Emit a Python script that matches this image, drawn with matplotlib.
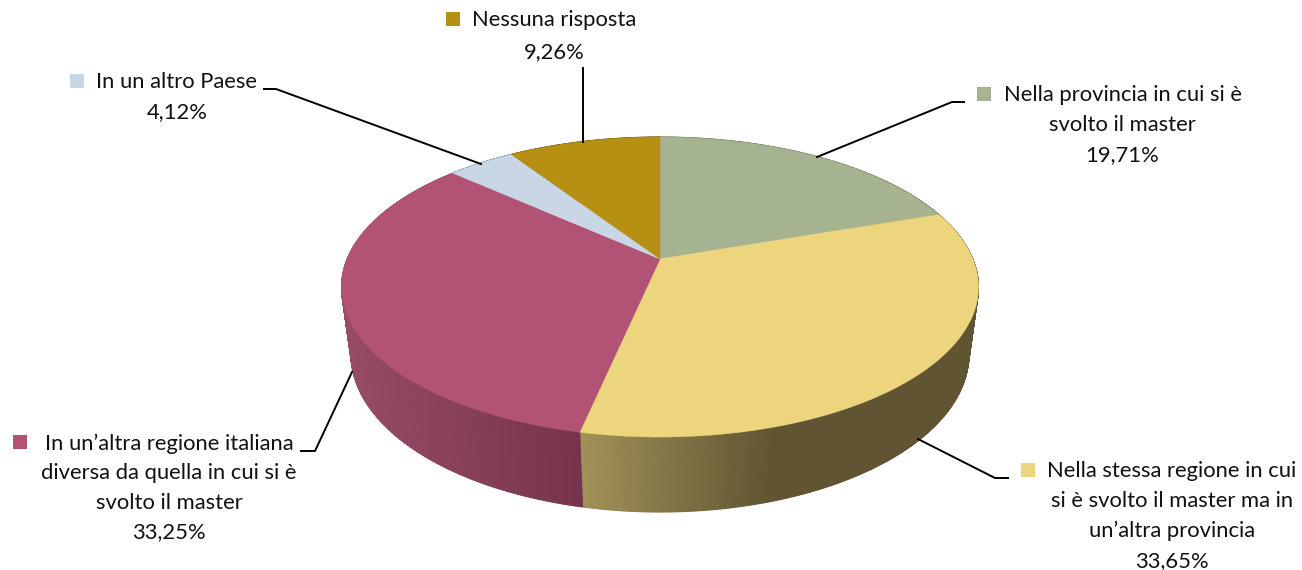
#!/usr/bin/env python
# -*- coding: utf-8 -*-

import numpy as np
import matplotlib
matplotlib.use('Agg')
import matplotlib.pyplot as plt

labels = ['Nella provincia in cui si è\nsvolto il master',
          'Nella stessa regione in cui\nsi è svolto il master ma in\nun’altra provincia',
          'In un’altra regione italiana\ndiversa da quella in cui si è\nsvolto il master',
          'In un altro Paese',
          'Nessuna risposta']
values = [19.71, 33.65, 33.25, 4.12, 9.26]

colors = ['#A5B390', '#ECD57C', '#B25274', '#C9D6E5', '#B69012']
# side shading: x pixel -> colour, only the two front slices really show
side_x = [[660, 980], [580, 775, 980], [340, 582], [340, 980], [340, 980]]
side_rgb = [[(90, 100, 70), (90, 100, 70)],
            [(162, 146, 88), (96, 84, 50), (96, 84, 50)],
            [(152, 76, 102), (118, 52, 76)],
            [(120, 130, 140), (120, 130, 140)],
            [(110, 90, 20), (110, 90, 20)]]

# perspective of the pie, in pixels
CX, CY = 660., 259.
A, B, K = 312.9, 144.8, 0.1867
DEPTH_W, DEPTH_Y = 0.03, 68.6


def project(theta, low=False):
  # theta is clockwise from the top of the pie
  u, v = np.sin(theta), np.cos(theta)
  w = 1 + K*v + (DEPTH_W if low else 0)
  y = B*v - (DEPTH_Y if low else 0)
  return CX + A*u/w, CY - y/w


fig = plt.figure(figsize=(13.02, 5.7), dpi=100)
ax = fig.add_axes([0, 0, 1, 1])
ax.set_xlim(0, 1302)
ax.set_ylim(570, 0)
ax.axis('off')

edges = np.radians(np.cumsum([0] + values) / sum(values) * 360)

# sides first, the top covers what is behind
for i in range(len(values)):
  th = np.linspace(edges[i], edges[i+1], 300)
  xt, yt = project(th)
  xl, yl = project(th, low=True)
  X = np.vstack([xt, xl])
  Y = np.vstack([yt, yl])
  rgb = np.array(side_rgb[i], dtype=float)
  C = np.stack([np.interp(xt, side_x[i], rgb[:, c]) for c in range(3)], axis=-1) / 255
  ax.pcolormesh(X, Y, np.stack([C, C]), shading='gouraud', zorder=1)

for i in range(len(values)):
  th = np.linspace(edges[i], edges[i+1], 300)
  xt, yt = project(th)
  ax.fill(np.r_[CX, xt], np.r_[CY, yt], facecolor=colors[i], edgecolor=colors[i],
          linewidth=0.3, zorder=2)

# leader lines
leaders = [([817, 952, 964], [157, 102, 102]),
           ([918, 995, 1008], [439, 478, 478]),
           ([352, 315, 301], [372, 451, 451]),
           ([481, 276, 264], [164, 89, 89]),
           ([583, 583], [142, 68])]
for lx, ly in leaders:
  ax.plot(lx, ly, color='black', lw=1.4, solid_joinstyle='round', zorder=3)

# labels with their colour key
text_xy = [(1122.5, 125), (1172, 516), (169, 488), (177, 97), (554, 36)]
key_xy = [(984, 94), (1028, 470), (20, 442), (77, 81), (453, 19)]
spacing = [1.6, 1.6, 1.6, 1.6, 1.72]
for i in range(len(values)):
  pct = ('%.2f%%' % values[i]).replace('.', ',')
  ax.text(text_xy[i][0], text_xy[i][1], labels[i] + '\n' + pct, ha='center', va='center',
          family='Lato', fontsize=15.8, linespacing=spacing[i], color='#111111', zorder=4)
  ax.plot(*key_xy[i], marker='s', ms=10, color=colors[i], mew=0, zorder=4)

fig.savefig('out.png', dpi=100)
